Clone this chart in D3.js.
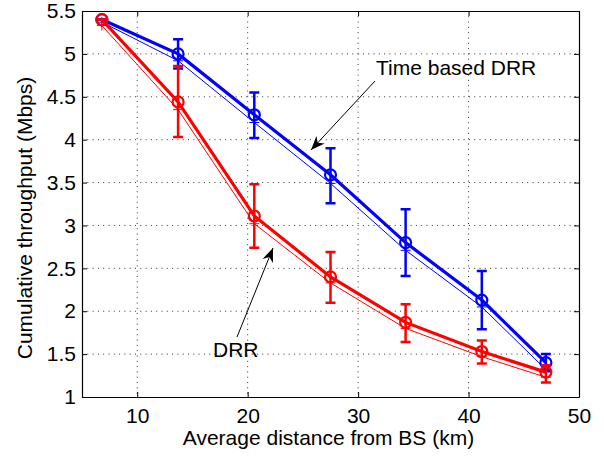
<!DOCTYPE html>
<html>
<head>
<meta charset="utf-8">
<script src="https://cdn.jsdelivr.net/npm/d3@7"></script>
<style>
  body { margin: 0; background: #fff; }
  svg { display: block; font-family: "Liberation Sans", Arial, Helvetica, sans-serif; }
</style>
</head>
<body>
<svg id="canvas" width="604" height="456"></svg>
<script>
// distances (km)
let distances = [6.8, 13.7, 20.6, 27.5, 34.3, 41.2, 47.0]

// Time based DRR
let tbMean = [5.40, 5.00, 4.29, 3.59, 2.80, 2.13, 1.40]
let tbLow  = [5.40, 4.83, 4.02, 3.26, 2.41, 1.79, 1.30]
let tbHigh = [5.40, 5.17, 4.55, 3.90, 3.19, 2.47, 1.50]
let tbThin = [5.37, 4.92, 4.20, 3.49, 2.71, 2.05, 1.32]

// DRR
let drrMean = [5.40, 4.44, 3.11, 2.40, 1.87, 1.53, 1.29]
let drrLow  = [5.40, 4.03, 2.74, 2.10, 1.64, 1.39, 1.17]
let drrHigh = [5.40, 4.86, 3.48, 2.69, 2.08, 1.66, 1.37]
let drrThin = [5.33, 4.35, 3.02, 2.33, 1.80, 1.47, 1.23]

let xTicks = [10, 20, 30, 40, 50]
let yTicks = [1, 1.5, 2, 2.5, 3, 3.5, 4, 4.5, 5, 5.5]

let margin = {top: 11, right: 25, bottom: 59, left: 82}
let W = 604, H = 456
let w = W - margin.left - margin.right
let h = H - margin.top - margin.bottom

let svg = d3.select('#canvas')
let g = svg.append('g').attr('transform', `translate(${margin.left},${margin.top})`)

let x = d3.scaleLinear().domain([5, 50]).range([0, w])
let y = d3.scaleLinear().domain([1, 5.5]).range([h, 0])

// grid (dotted)
g.selectAll('.gx').data(xTicks.filter(d => d < 50)).enter().append('line')
    .attr('x1', d => x(d)).attr('x2', d => x(d))
    .attr('y1', 0).attr('y2', h)
    .attr('stroke', '#333').attr('stroke-width', 1).attr('stroke-dasharray', '1,4.3')
g.selectAll('.gy').data(yTicks.filter(d => d > 1 && d < 5.5)).enter().append('line')
    .attr('x1', 0).attr('x2', w)
    .attr('y1', d => y(d)).attr('y2', d => y(d))
    .attr('stroke', '#333').attr('stroke-width', 1).attr('stroke-dasharray', '1,4.3')

// axes, inward ticks on all four sides
let fs = '21px'
let bottomAxis = g.append('g').attr('transform', `translate(0,${h})`)
    .call(d3.axisBottom(x).tickValues(xTicks).tickSizeInner(-5).tickSizeOuter(0).tickPadding(11).tickFormat(d3.format('d')))
let leftAxis = g.append('g')
    .call(d3.axisLeft(y).tickValues(yTicks).tickSizeInner(-5).tickSizeOuter(0).tickPadding(6).tickFormat(d => String(d)))
let topAxis = g.append('g')
    .call(d3.axisTop(x).tickValues(xTicks).tickSizeInner(-5).tickSizeOuter(0).tickFormat(''))
let rightAxis = g.append('g').attr('transform', `translate(${w},0)`)
    .call(d3.axisRight(y).tickValues(yTicks).tickSizeInner(-5).tickSizeOuter(0).tickFormat(''))

;[bottomAxis, leftAxis, topAxis, rightAxis].forEach(a => {
    a.select('.domain').attr('stroke', '#000').attr('stroke-width', 1.2)
    a.selectAll('.tick line').attr('stroke', '#000')
    a.selectAll('.tick text').attr('fill', '#000').style('font-size', fs)
        .style('font-family', '"Liberation Sans", Arial, sans-serif')
})

let line = d3.line().x((d, i) => x(distances[i])).y(d => y(d))

let drawSeries = (mean, low, high, thin, color) => {
    // thin reference line with + markers
    g.append('path').datum(thin).attr('d', line)
        .attr('fill', 'none').attr('stroke', color).attr('stroke-width', 1)
    g.selectAll(null).data(thin).enter().append('path')
        .attr('d', (d, i) => {
            let cx = x(distances[i]), cy = y(d)
            return `M${cx - 5},${cy}H${cx + 5}M${cx},${cy - 5}V${cy + 5}`
        })
        .attr('stroke', color).attr('stroke-width', 1)

    // thick mean line
    g.append('path').datum(mean).attr('d', line)
        .attr('fill', 'none').attr('stroke', color).attr('stroke-width', 3.2)

    // error bars
    g.selectAll(null).data(mean).enter().append('path')
        .attr('d', (d, i) => {
            let cx = x(distances[i]), y1 = y(low[i]), y2 = y(high[i])
            return `M${cx},${y1}V${y2}M${cx - 5},${y1}H${cx + 5}M${cx - 5},${y2}H${cx + 5}`
        })
        .attr('fill', 'none').attr('stroke', color).attr('stroke-width', 2.5)

    // circle markers
    g.selectAll(null).data(mean).enter().append('circle')
        .attr('cx', (d, i) => x(distances[i])).attr('cy', d => y(d))
        .attr('r', 5.5)
        .attr('fill', 'none').attr('stroke', color).attr('stroke-width', 2.2)
}

drawSeries(tbMean, tbLow, tbHigh, tbThin, '#0000ff')
drawSeries(drrMean, drrLow, drrHigh, drrThin, '#ff0000')

// annotations
svg.append('defs').append('marker')
    .attr('id', 'ah').attr('viewBox', '0 0 10 10').attr('refX', 10).attr('refY', 5)
    .attr('markerWidth', 14).attr('markerHeight', 14).attr('markerUnits', 'userSpaceOnUse')
    .attr('orient', 'auto')
    .append('path').attr('d', 'M0,1 L10,5 L0,9 L3,5 Z').attr('fill', '#000')

svg.append('line').attr('x1', 375).attr('y1', 81).attr('x2', 311).attr('y2', 150)
    .attr('stroke', '#000').attr('stroke-width', 1).attr('marker-end', 'url(#ah)')
svg.append('line').attr('x1', 237).attr('y1', 337).attr('x2', 273).attr('y2', 248)
    .attr('stroke', '#000').attr('stroke-width', 1).attr('marker-end', 'url(#ah)')

svg.append('text').attr('x', 376).attr('y', 75).text('Time based DRR')
    .style('font-size', '21px').attr('fill', '#000')
svg.append('text').attr('x', 213).attr('y', 357).text('DRR')
    .style('font-size', '21px').attr('fill', '#000')

// axis labels
svg.append('text').attr('x', margin.left + w / 2 - 2).attr('y', 445)
    .attr('text-anchor', 'middle').text('Average distance from BS (km)')
    .style('font-size', '21px').attr('fill', '#000')
svg.append('text').attr('transform', `translate(32,${margin.top + h / 2 + 14}) rotate(-90)`)
    .attr('text-anchor', 'middle').text('Cumulative throughput (Mbps)')
    .style('font-size', '21px').attr('fill', '#000')
</script>
</body>
</html>
